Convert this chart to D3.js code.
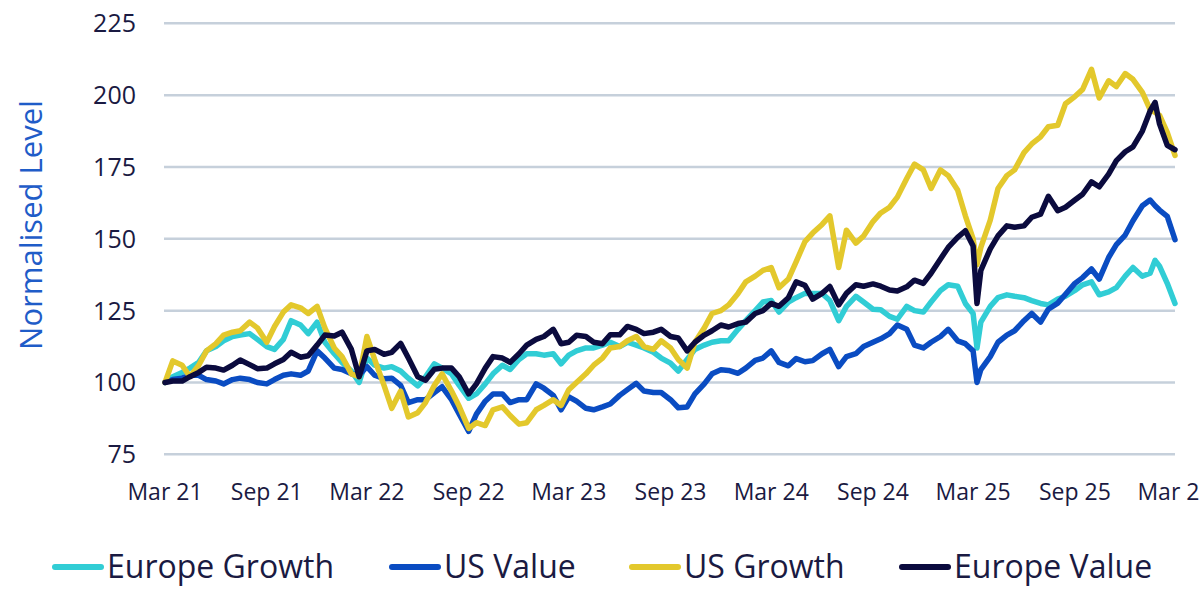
<!DOCTYPE html>
<html>
<head>
<meta charset="utf-8">
<title>Normalised Level</title>
<script src="https://cdn.jsdelivr.net/npm/d3@7"></script>
<style>
  html, body { margin: 0; padding: 0; background: #ffffff; }
  svg { display: block; font-family: "Open Sans", "Noto Sans", sans-serif; }
</style>
</head>
<body>
<svg id="chart" width="1200" height="591"></svg>
<script>
// sample dates (roughly twice a month, plus two extra days around sharp moves)
const dates = [
  "2021-03-01","2021-03-15","2021-04-01","2021-04-15","2021-05-01","2021-05-15","2021-06-01","2021-06-15","2021-07-01","2021-07-15",
  "2021-08-01","2021-08-15","2021-09-01","2021-09-15","2021-10-01","2021-10-15","2021-11-01","2021-11-15","2021-12-01","2021-12-15",
  "2022-01-01","2022-01-15","2022-02-01","2022-02-15","2022-03-01","2022-03-15","2022-04-01","2022-04-15","2022-05-01","2022-05-15",
  "2022-06-01","2022-06-15","2022-07-01","2022-07-15","2022-08-01","2022-08-15","2022-09-01","2022-09-15","2022-10-01","2022-10-15",
  "2022-11-01","2022-11-15","2022-12-01","2022-12-15",
  "2023-01-01","2023-01-15","2023-02-01","2023-02-15","2023-03-01","2023-03-15","2023-04-01","2023-04-15","2023-05-01","2023-05-15",
  "2023-06-01","2023-06-15","2023-07-01","2023-07-15","2023-08-01","2023-08-15","2023-09-01","2023-09-15","2023-10-01","2023-10-15",
  "2023-11-01","2023-11-15","2023-12-01","2023-12-15",
  "2024-01-01","2024-01-15","2024-02-01","2024-02-15","2024-03-01","2024-03-15","2024-04-01","2024-04-15","2024-05-01","2024-05-15",
  "2024-06-01","2024-06-15","2024-07-01","2024-07-15","2024-08-01","2024-08-15","2024-09-01","2024-09-15","2024-10-01","2024-10-15",
  "2024-11-01","2024-11-15","2024-12-01","2024-12-15",
  "2025-01-01","2025-01-15","2025-02-01","2025-02-15","2025-03-01","2025-03-08","2025-03-15","2025-04-01","2025-04-15","2025-05-01",
  "2025-05-15","2025-06-01","2025-06-15","2025-07-01","2025-07-15","2025-08-01","2025-08-15","2025-09-01","2025-09-15","2025-10-01",
  "2025-10-15","2025-11-01","2025-11-15","2025-12-01","2025-12-15",
  "2026-01-01","2026-01-15","2026-01-24","2026-02-01","2026-02-15","2026-03-01"
];

const europeGrowth = [
  100, 102, 103.5, 105, 107, 111, 112.5, 114.5, 116, 116.5, 117, 115, 112.5, 111.5, 115, 121.5, 120, 117, 121, 114,
  110, 107, 104, 100, 108.5, 106, 105, 105.5, 104, 101.5, 98.8, 102, 106.5, 105, 103, 99, 94.5, 96, 99.5, 103, 106, 104.5, 108, 110,
  110, 109.5, 110, 106.5, 109.5, 111, 112, 112, 113, 114, 112.5, 114, 113, 112, 110.5, 108.5, 106.7, 104, 108, 111.5, 113, 114, 114.5, 114.5,
  118.5, 121.5, 125, 128, 128.5, 124.5, 128, 129.5, 131, 131, 131, 128.5, 121.5, 126.5, 130, 128, 125.5, 125.3, 123, 122, 126.5, 125, 124.5, 128,
  132, 134, 133.5, 127.5, 124, 112, 121, 126.5, 129.5, 130.5, 130, 129.5, 128.5, 127.5, 127, 129, 130, 132, 134, 135, 130.5, 131.5, 133, 137, 140,
  137, 138, 142.5, 140.5, 134.5, 127.5
];

const usValue = [
  100, 101, 101.5, 102.5, 102.5, 101, 100.5, 99.5, 101, 101.5, 101, 100, 99.5, 101, 102.5, 103, 102.5, 104, 111, 108.5,
  105, 104.5, 103, 102.5, 105.5, 102.5, 101.3, 101.5, 99, 93, 94, 94, 96.5, 98.5, 94, 89, 83, 89, 93.5, 96, 96, 93, 94, 94,
  99.5, 98, 95.5, 90.5, 95, 93.5, 91, 90.5, 91.5, 92.5, 95.5, 97.5, 99.7, 97, 96.5, 96.5, 94, 91.2, 91.5, 96, 99.5, 103, 104.4, 104.2,
  103.2, 105, 107.7, 108.5, 111, 107, 105.8, 108.3, 107.2, 107.6, 110, 111.5, 105.5, 109, 110, 112.5, 114, 115.2, 117, 120, 118.5, 113, 112, 114,
  116, 118.5, 114.5, 113.5, 111, 100, 104.5, 109, 114, 116.5, 118, 121.5, 124, 121, 125.5, 127.6, 130.7, 134.5, 136.5, 139.5, 136, 143.5, 148, 151.3, 156.3,
  161.5, 163.5, 161.5, 160, 157.8, 149.7
];

const usGrowth = [
  100, 107.5, 106, 102, 106, 111, 113.5, 116.5, 117.5, 118, 121, 119, 114, 119.5, 124.5, 127, 126, 124, 126.5, 119,
  112, 109, 103, 102, 116, 108, 99, 91, 97, 88, 89.5, 93, 99, 103, 97, 91.6, 84, 86, 85, 90.5, 91.5, 88.5, 85.5, 86,
  90.5, 92, 94, 92, 97.5, 100, 103, 106, 108.5, 112, 112.5, 114.5, 116, 112.5, 111.5, 114.5, 112, 108, 105, 114, 119, 124, 125, 127,
  131, 135, 137, 139, 140, 133, 136, 142, 149, 152, 155, 158, 140, 153, 148.5, 151, 156, 159, 161, 164.5, 171, 176, 174, 167.5,
  174, 172, 167, 158, 150, 141, 147, 156.5, 167.5, 172, 174, 180, 183, 185.5, 189, 189.5, 197, 199.5, 202, 209, 199, 205, 203, 207.5, 205.5,
  201, 195, 194, 193, 187, 179
];

const europeValue = [
  100, 100.5, 100.5, 102, 103.5, 105.3, 105, 104.3, 106, 107.8, 106.2, 104.8, 105, 106.5, 108, 110.5, 108.8, 109.3, 113, 116.5,
  116.2, 117.5, 111.5, 102, 111, 111.5, 109.8, 110.5, 113.6, 108.5, 102, 100.8, 104.6, 105, 105, 102, 96, 99.5, 105, 109, 108.5, 107, 110, 113,
  115, 116, 118.5, 113.5, 114, 116.4, 116, 114, 113.5, 116.6, 116.6, 119.5, 118.5, 117, 117.5, 118.5, 116, 115.5, 111, 114, 116.5, 118, 120, 119.3,
  120.5, 121, 124, 125, 127.5, 126.5, 129.5, 135, 133.8, 129, 131, 133.4, 127, 131, 134, 133.5, 134.3, 133.5, 132.2, 131.8, 133.3, 135.6, 134.5, 138,
  143, 147, 150.5, 152.8, 147.5, 127.5, 139, 146.5, 151, 154.5, 154, 154.5, 157.5, 158.6, 164.8, 159.8, 161, 163.5, 165.5, 169.8, 168.1, 172.5, 177.2, 180.3, 182,
  187.5, 194.5, 197.5, 190, 182.5, 181
];

const seriesNames = ["Europe Growth", "US Value", "US Growth", "Europe Value"];
const seriesValues = [europeGrowth, usValue, usGrowth, europeValue];
const seriesColors = ["#31cdd5", "#0a4cc2", "#e3c82c", "#0b0b3e"];

const yTicks = [75, 100, 125, 150, 175, 200, 225];
const xTickDates = ["2021-03-01","2021-09-01","2022-03-01","2022-09-01","2023-03-01","2023-09-01",
                    "2024-03-01","2024-09-01","2025-03-01","2025-09-01","2026-03-01"];
const xTickLabels = ["Mar 21","Sep 21","Mar 22","Sep 22","Mar 23","Sep 23","Mar 24","Sep 24","Mar 25","Sep 25","Mar 26"];

const parse = d3.timeParse("%Y-%m-%d");
const svg = d3.select("#chart");

const x = d3.scaleTime()
    .domain([parse("2021-03-01"), parse("2026-03-01")])
    .range([165, 1175]);

const y = d3.scaleLinear()
    .domain([75, 225])
    .range([454.3, 23.3]);

// gridlines
svg.append("g")
    .selectAll("line")
    .data(yTicks)
    .enter()
    .append("line")
    .attr("x1", 164)
    .attr("x2", 1175)
    .attr("y1", d => y(d))
    .attr("y2", d => y(d))
    .attr("stroke", "#c6d0db")
    .attr("stroke-width", 2.5);

// y labels
svg.append("g")
    .selectAll("text")
    .data(yTicks)
    .enter()
    .append("text")
    .attr("x", 136)
    .attr("y", d => y(d))
    .attr("dy", "0.36em")
    .attr("text-anchor", "end")
    .attr("font-size", 25)
    .attr("fill", "#1a1a42")
    .text(d => d);

// x labels (the last one runs past the right edge, as in the source)
svg.append("g")
    .selectAll("text")
    .data(xTickDates)
    .enter()
    .append("text")
    .attr("x", d => x(parse(d)))
    .attr("y", 500)
    .attr("text-anchor", "middle")
    .attr("font-size", 23)
    .attr("fill", "#1a1a42")
    .text((d, i) => xTickLabels[i]);

// axis title
svg.append("text")
    .attr("transform", "translate(42,225) rotate(-90)")
    .attr("text-anchor", "middle")
    .attr("font-size", 31)
    .attr("fill", "#1f5cc8")
    .text("Normalised Level");

// lines
const line = d3.line()
    .x((d, i) => x(parse(dates[i])))
    .y(d => y(d));

svg.append("g")
    .selectAll("path")
    .data(seriesValues)
    .enter()
    .append("path")
    .attr("d", d => line(d))
    .attr("fill", "none")
    .attr("stroke", (d, i) => seriesColors[i])
    .attr("stroke-width", 5.5)
    .attr("stroke-linejoin", "round")
    .attr("stroke-linecap", "round");

// legend
const legendX = [52, 389, 629, 899];
const legend = svg.append("g")
    .selectAll("g")
    .data(seriesNames)
    .enter()
    .append("g")
    .attr("transform", (d, i) => `translate(${legendX[i]},567)`);

legend.append("line")
    .attr("x1", 3)
    .attr("x2", 49)
    .attr("stroke", (d, i) => seriesColors[i])
    .attr("stroke-width", 6)
    .attr("stroke-linecap", "round");

legend.append("text")
    .attr("x", 55)
    .attr("y", 11)
    .attr("font-size", 32)
    .attr("fill", "#1a1a42")
    .text(d => d);
</script>
</body>
</html>
